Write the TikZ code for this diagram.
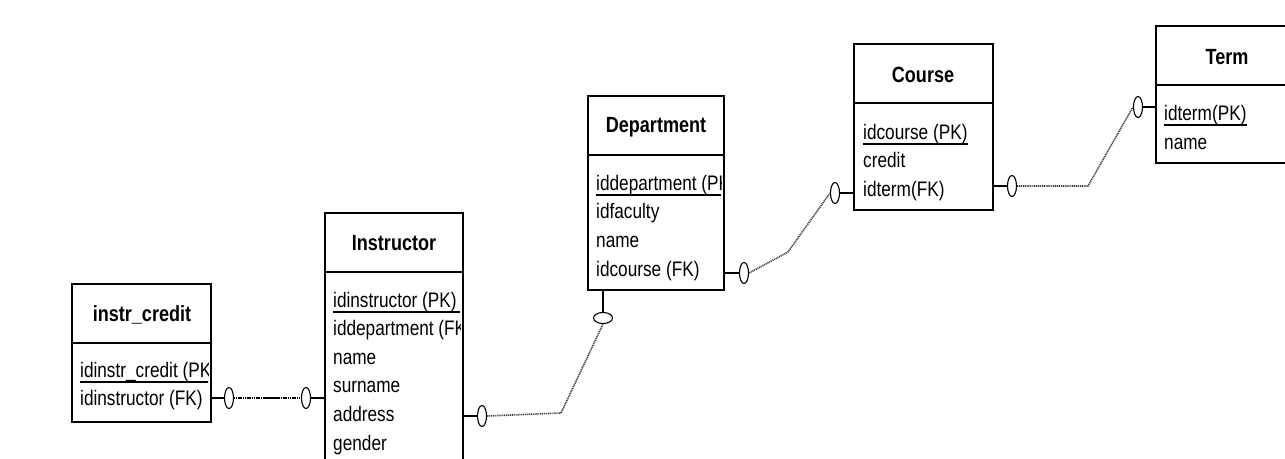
\documentclass[tikz,border=0pt]{standalone}
\usepackage{fontspec}
\setmainfont{Liberation Sans}[FakeStretch=0.82]
\usetikzlibrary{shapes.geometric,calc}
\begin{document}
\begin{tikzpicture}[x=1pt,y=-1pt,
  box/.style={draw,line width=1.3pt,anchor=north west,inner sep=0pt,outer sep=0pt},
  ttl/.style={font=\fontsize{22}{25}\selectfont\bfseries,inner sep=0pt},
  row/.style={font=\fontsize{21}{24}\selectfont,anchor=base west,inner sep=0pt},
  pk/.style={line width=2.4pt},
  vring/.style={ellipse,draw,line width=1.1pt,minimum width=9pt,minimum height=21pt,inner sep=0pt,fill=white},
  hring/.style={ellipse,draw,line width=1.1pt,minimum width=19pt,minimum height=11pt,inner sep=0pt,fill=white},
  solidlink/.style={line width=1.2pt},
  dotlink/.style={line width=1.6pt,gray!50!black,dash pattern=on 1.1pt off 0.8pt}]
\useasboundingbox (0,0) rectangle (1285,458);
\fill[white] (0,0) rectangle (1285,458);
\clip (0,0) rectangle (1285,458);

% ---------- instr_credit ----------
\node[box,minimum width=139pt,minimum height=138pt] (ic) at (72,284) {};
\draw[line width=1.3pt] (72,343) -- (211,343);
\node[ttl] (ict) at (142,315) {instr\_credit};
\begin{scope}
\clip (72,343) rectangle (208,422);
\node[row] (ic1) at (80,377) {idinstr\_credit (PK)};
\node[row] (ic2) at (80,405) {idinstructor (FK)};
\draw[pk] (ic1.base west) ++(0,5) -- ++(130,0);
\end{scope}

% ---------- Instructor ----------
\node[box,minimum width=138pt,minimum height=270pt] (ins) at (325,213) {};
\draw[line width=1.3pt] (325,272) -- (463,272);
\node[ttl] (inst) at (394,243) {Instructor};
\begin{scope}
\clip (325,272) rectangle (460,483);
\node[row] (in1) at (333,307) {idinstructor (PK)};
\node[row] (in2) at (333,335.6) {iddepartment (FK)};
\node[row] (in3) at (333,364.2) {name};
\node[row] (in4) at (333,392.8) {surname};
\node[row] (in5) at (333,421.4) {address};
\node[row] (in6) at (333,450) {gender};
\draw[pk] (in1.base west) ++(0,5) -- ++(127,0);
\end{scope}

% ---------- Department ----------
\node[box,minimum width=136pt,minimum height=194pt] (dep) at (588,96) {};
\draw[line width=1.3pt] (588,155) -- (724,155);
\node[ttl] (dept) at (656,127) {Department};
\begin{scope}
\clip (588,155) rectangle (721,290);
\node[row] (de1) at (596,190) {iddepartment (PK)};
\node[row] (de2) at (596,218.5) {idfaculty};
\node[row] (de3) at (596,247.5) {name};
\node[row] (de4) at (596,276) {idcourse (FK)};
\draw[pk] (de1.base west) ++(0,5) -- ++(125,0);
\end{scope}

% ---------- Course ----------
\node[box,minimum width=139pt,minimum height=166pt] (crs) at (854,44) {};
\draw[line width=1.3pt] (854,103) -- (993,103);
\node[ttl] (crst) at (923,75) {Course};
\node[row] (co1) at (863,139) {idcourse (PK)};
\node[row] (co2) at (863,167.5) {credit};
\node[row] (co3) at (863,196) {idterm(FK)};
\draw[pk] (co1.base west) ++(0,5) -- (co1.base east |- 0,144);

% ---------- Term ----------
\node[box,minimum width=146pt,minimum height=137pt] (trm) at (1156,26) {};
\draw[line width=1.3pt] (1156,85) -- (1302,85);
\node[ttl] (trmt) at (1227,57) {Term};
\node[row] (te1) at (1164,120) {idterm(PK)};
\node[row] (te2) at (1164,149) {name};
\draw[pk] (te1.base west) ++(0,5) -- (te1.base east |- 0,125);

% ---------- rings and bends ----------
\node[vring] (r1) at (229,398) {};
\node[vring] (r2) at (306,398) {};
\node[vring] (r3) at (482,416) {};
\coordinate (b1) at (561,413);
\node[hring] (r4) at (603,318) {};
\node[vring] (r5) at (744,273) {};
\coordinate (b2) at (788,252);
\node[vring] (r6) at (835,193) {};
\node[vring] (r7) at (1012,186) {};
\coordinate (b3) at (1088,186);
\node[vring] (r8) at (1138,107) {};

% ---------- connectors ----------
% instr_credit -- Instructor
\draw[solidlink] (ic.east |- r1) -- (r1.west);
\draw[line width=1.8pt,black,dash pattern=on 1.1pt off 0.7pt] (r1.east) -- (r2.west);
\draw[line width=2.6pt] ($(r1.east)!0.45!(r2.west)$) -- ($(r1.east)!0.68!(r2.west)$);
\draw[solidlink] (r2.east) -- (ins.west |- r2);
% Instructor -- Department
\draw[solidlink] (ins.east |- r3) -- (r3.west);
\draw[dotlink] (r3.east) -- (b1) -- (r4.south);
\draw[solidlink] (r4.north) -- (r4 |- dep.south);
% Department -- Course
\draw[solidlink] (dep.east |- r5) -- (r5.west);
\draw[dotlink] (r5.east) -- (b2) -- (r6.west);
\draw[solidlink] (r6.east) -- (crs.west |- r6);
% Course -- Term
\draw[solidlink] (crs.east |- r7) -- (r7.west);
\draw[dotlink] (r7.east) -- (b3) -- (r8.west);
\draw[solidlink] (r8.east) -- (trm.west |- r8);
\end{tikzpicture}
\end{document}
